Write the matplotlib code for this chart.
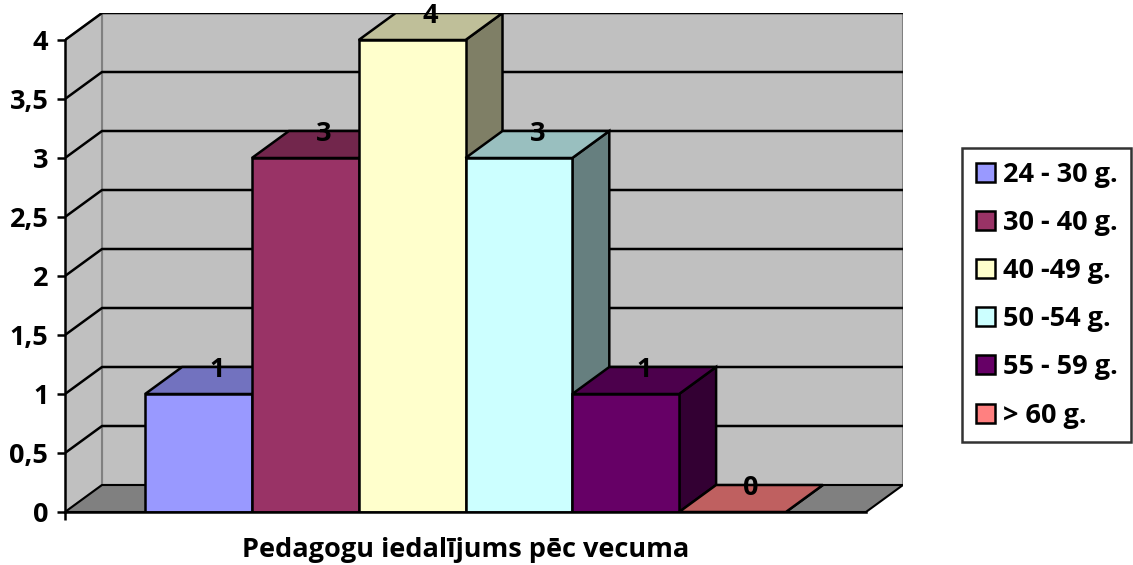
import matplotlib
matplotlib.use("Agg")
import matplotlib.pyplot as plt
from matplotlib.patches import Polygon

# dati
grupas = ["24 - 30 g.", "30 - 40 g.", "40 -49 g.", "50 -54 g.", "55 - 59 g.", "> 60 g."]
skaits = [1, 3, 4, 3, 1, 0]
krasas = ["#9999FF", "#993366", "#FFFFCC", "#CCFFFF", "#660066", "#FF8080"]
kategorija = "Pedagogu iedalījums pēc vecuma"
y_ticks = [0, 0.5, 1, 1.5, 2, 2.5, 3, 3.5, 4]
y_labels = ["0", "0,5", "1", "1,5", "2", "2,5", "3", "3,5", "4"]

plt.rcParams['font.family'] = ['Open Sans', 'DejaVu Sans']
plt.rcParams['font.weight'] = 'bold'
FS = 19.5


def tonis(c, k):
    c = c.lstrip('#')
    r, g, b = [int(c[i:i + 2], 16) for i in (0, 2, 4)]
    return '#%02X%02X%02X' % (int(r * k), int(g * k), int(b * k))


W, H = 1133, 565
fig = plt.figure(figsize=(W / 100, H / 100), dpi=100)
ax = fig.add_axes([65 / W, (H - 512) / H, (903 - 65) / W, (512 - 13) / H])

ymax = 4
dx = 37 / 801          # dziļums x virzienā
dy = 27 / 118          # dziļums y virzienā
ax.set_xlim(0, 1 + dx)
ax.set_ylim(0, ymax + dy)

# sienas un grīda
ax.add_patch(Polygon([(dx, dy), (1 + dx, dy), (1 + dx, ymax + dy), (dx, ymax + dy)],
                     closed=True, fc="#C0C0C0", ec="#808080", lw=1.5, zorder=0))
ax.add_patch(Polygon([(0, 0), (dx, dy), (dx, ymax + dy), (0, ymax)],
                     closed=True, fc="#C0C0C0", ec="#808080", lw=1.5, zorder=0))
ax.add_patch(Polygon([(0, 0), (1, 0), (1 + dx, dy), (dx, dy)],
                     closed=True, fc="#808080", ec="black", lw=1.5, zorder=0.5))

# režģa līnijas
for v in y_ticks[1:]:
    ax.plot([0, dx, 1 + dx], [v, v + dy, v + dy], color="black", lw=1.8, zorder=1)

# stabiņi
n = len(skaits)
bw = 0.8 / n
z = 2
for i, (v, c) in enumerate(zip(skaits, krasas)):
    x0 = 0.1 + i * bw
    x1 = x0 + bw
    side = [(x1, 0), (x1 + dx, dy), (x1 + dx, v + dy), (x1, v)]
    top = [(x0, v), (x1, v), (x1 + dx, v + dy), (x0 + dx, v + dy)]
    front = [(x0, 0), (x1, 0), (x1, v), (x0, v)]
    ax.add_patch(Polygon(side, closed=True, fc=tonis(c, 0.5), ec="black", lw=1.8, zorder=z))
    ax.add_patch(Polygon(top, closed=True, fc=tonis(c, 0.75), ec="black", lw=1.8, zorder=z + 0.1))
    ax.add_patch(Polygon(front, closed=True, fc=c, ec="black", lw=1.8, zorder=z + 0.2))
    z += 1
    ax.text((x0 + x1) / 2 + dx / 2, v + dy * 0.9, str(v), ha='center', va='center',
            fontsize=FS, fontweight='bold', zorder=50)

# asis
for s in ['top', 'right']:
    ax.spines[s].set_visible(False)
ax.spines['left'].set_bounds(0, ymax)
ax.spines['bottom'].set_bounds(0, 1)
ax.spines['left'].set_linewidth(1.8)
ax.spines['bottom'].set_linewidth(1.8)
ax.spines['left'].set_zorder(60)
ax.spines['bottom'].set_zorder(60)
ax.set_yticks(y_ticks)
ax.set_yticklabels(y_labels, fontsize=FS, fontweight='bold')
ax.tick_params(axis='y', length=6, width=1.8, pad=6)
ax.set_xticks([0])
ax.set_xticklabels([""])
ax.set_xticks([0.5], minor=True)
ax.set_xticklabels([kategorija], minor=True, fontsize=FS, fontweight='bold')
ax.tick_params(axis='x', which='major', length=6, width=1.8)
ax.tick_params(axis='x', which='minor', length=0, pad=18)
ax.patch.set_visible(False)

# leģenda
rokt = [plt.Rectangle((0, 0), 1, 1, fc=c, ec="black", lw=1.8) for c in krasas]
leg = fig.legend(rokt, grupas, loc='upper left', bbox_to_anchor=(962 / W, 1 - 148 / H),
                 prop={'size': FS, 'weight': 'bold'}, frameon=True, fancybox=False,
                 edgecolor="black", handlelength=0.7, handleheight=0.7,
                 handletextpad=0.3, labelspacing=0.82, borderpad=0.5, borderaxespad=0)
leg.get_frame().set_linewidth(1.8)

fig.savefig("out.png", dpi=100)
